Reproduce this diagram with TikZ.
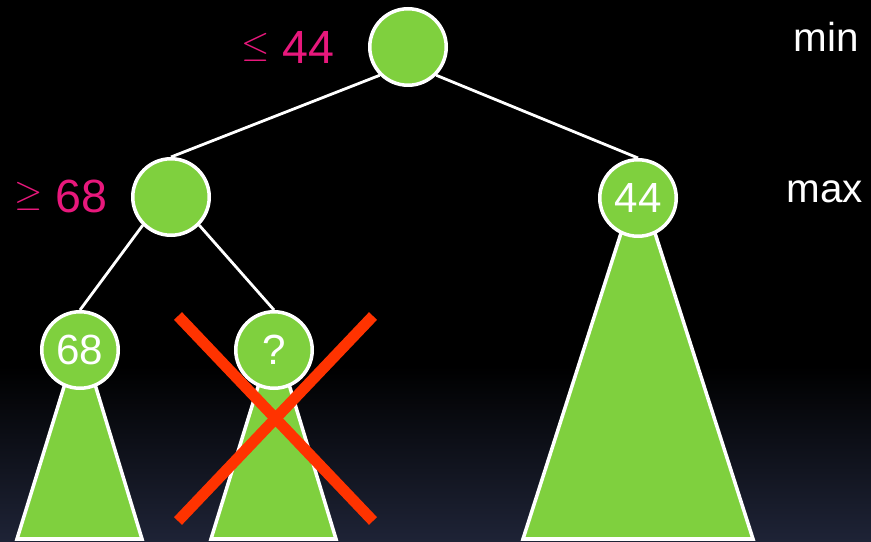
\documentclass[tikz,border=0pt]{standalone}
\usepackage{fontspec}
\setmainfont{Liberation Sans}
\usetikzlibrary{positioning, backgrounds}
\definecolor{LeafGreen}{RGB}{127,208,62}
\definecolor{BoundPink}{RGB}{232,24,124}
\definecolor{CutRed}{RGB}{255,51,0}
\definecolor{NightBlue}{RGB}{30,35,54}
\newcommand{\subtree}[3]{% vertice, base izq, base der
    \draw[white, line width=2pt, fill=LeafGreen] (#1) -- (#2) -- (#3) -- cycle;
}
\newcommand{\rel}[1]{\raisebox{4pt}{\fontsize{22.5}{27}\selectfont$#1$}}
\tikzset{
    state/.style={circle, draw=white, line width=2pt, fill=LeafGreen, text=white,
                  minimum size=1.53cm, inner sep=0pt, font=\fontsize{24}{24}\selectfont},
    bound/.style={text=BoundPink, inner sep=0pt, font=\fontsize{26.5}{27}\selectfont},
    level/.style={text=white, anchor=base, font=\fontsize{23}{23}\selectfont},
    edge/.style={white, line width=1.6pt}
}

\begin{document}
\begin{tikzpicture}[x=0.02cm, y=0.02cm]
\useasboundingbox (0,0) rectangle (871,541);

% arbol minimax
\node[state] (root)   at (408,494) {};
\node[state] (maxL)   at (171,344) {};
\node[state] (maxR)   at (638,343) {44};
\node[state] (leaf68) at (80,191)  {68};
\node[state] (leafq)  at (274,191) {?};

\node[bound, anchor=base east] (boundroot) at (335,477) {\rel{\leq} 44};
\node[bound, anchor=base east] (boundL)    at (108,328) {\rel{\geq} 68};

\node[level] (tagmin) at (826,489) {min};
\node[level] (tagmax) at (825,338) {max};

% poda
\draw[CutRed, line width=6.3pt] (178,225) -- (373,20);
\draw[CutRed, line width=6.3pt] (178,20) -- (373,225);

\begin{scope}[on background layer]
    \fill[black] (0,0) rectangle (871,541);
    \shade[top color=black, bottom color=NightBlue] (0,0) rectangle (871,175);

    \subtree{80,206}{17,2}{142,2}
    \subtree{274,206}{211,2}{336,2}
    \subtree{638,361}{523,2}{753,2}

    \draw[edge] (root.south west) -- (maxL.north);
    \draw[edge] (root.south east) -- (maxR.north);
    \draw[edge] (maxL.south west) -- (leaf68.north);
    \draw[edge] (maxL.south east) -- (leafq.north);
\end{scope}

\end{tikzpicture}
\end{document}
